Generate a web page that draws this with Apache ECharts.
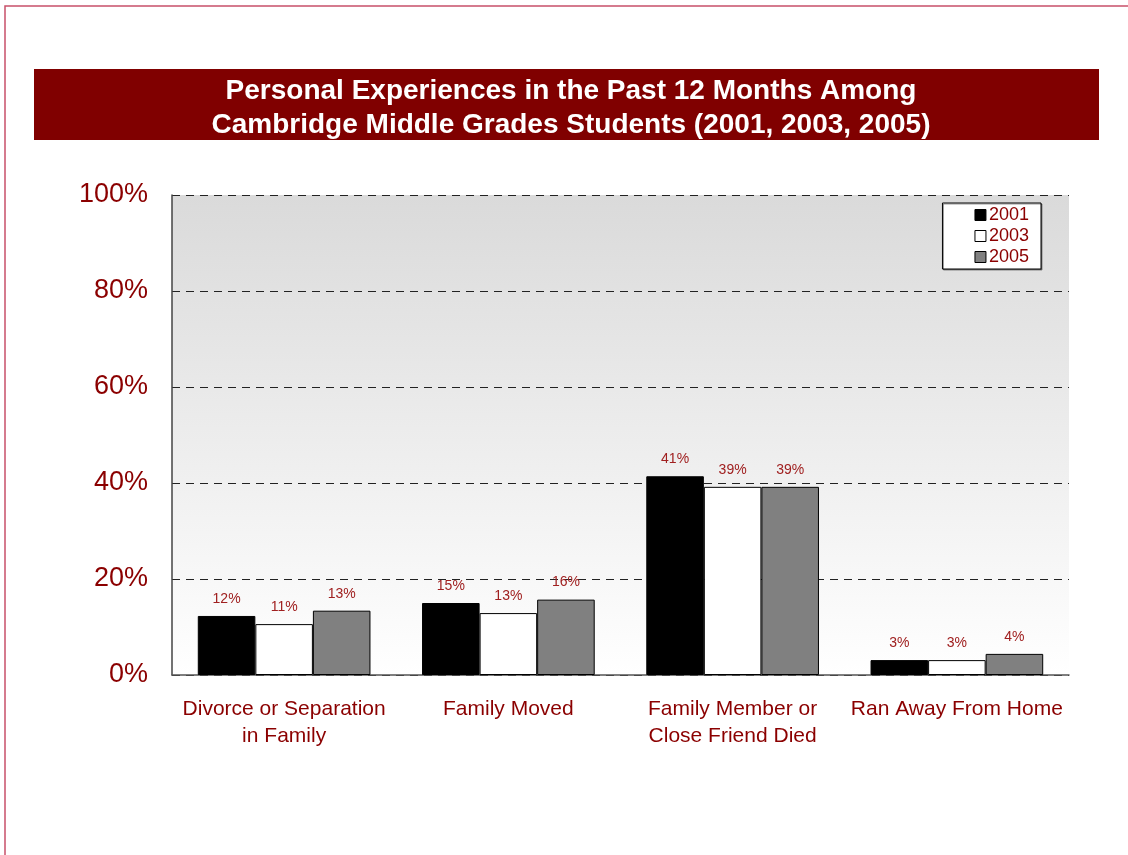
<!DOCTYPE html>
<html>
<head>
<meta charset="utf-8">
<script src="https://cdn.jsdelivr.net/npm/echarts@6/dist/echarts.min.js"></script>
<style>
  html, body { margin: 0; padding: 0; background: #fff; }
  #chart { width: 1128px; height: 855px; }
</style>
</head>
<body>
<div id="chart"></div>
<script>
// 分类与数据
let categories = [
  "Divorce or Separation\nin Family",
  "Family Moved",
  "Family Member or\nClose Friend Died",
  "Ran Away From Home"
];
let years = ["2001", "2003", "2005"];
let values2001 = [12.3, 15.0, 41.4, 3.1];
let values2003 = [10.6, 12.9, 39.2, 3.1];
let values2005 = [13.4, 15.7, 39.2, 4.4];
let barColors = ["#000000", "#ffffff", "#808080"];
let yTicks = [0, 20, 40, 60, 80, 100];

let textRed = "#8b0000";
let font = "Arial";
let myChart = echarts.init(document.getElementById("chart"));

let allValues = [values2001, values2003, values2005];
let series = years.map((year, i) => {
  return {
    name: year,
    type: "bar",
    data: allValues[i],
    barGap: "0%",
    barCategoryGap: "23%",
    itemStyle: {
      color: barColors[i],
      borderColor: "#000",
      borderWidth: 1
    },
    label: {
      show: true,
      position: "top",
      distance: 10,
      color: "#a02020",
      fontFamily: font,
      fontSize: 14,
      formatter: p => Math.round(p.value) + "%"
    }
  };
});

myChart.setOption({
  animation: false,
  title: {
    text: "Personal Experiences in the Past 12 Months Among\nCambridge Middle Grades Students (2001, 2003, 2005)",
    left: 566,
    top: 69,
    textAlign: "center",
    textStyle: {
      color: "#fff",
      fontFamily: font,
      fontWeight: "bold",
      fontSize: 28,
      lineHeight: 34
    }
  },
  graphic: [
    // 外框线
    {
      type: "polyline",
      shape: { points: [[5, 855], [5, 6], [1128, 6]] },
      style: { stroke: "#c8506a", lineWidth: 1.5, fill: null },
      z: 0
    },
    // 标题背景
    {
      type: "rect",
      shape: { x: 34, y: 69, width: 1065, height: 71 },
      style: { fill: "#800000" },
      z: -1
    }
  ],
  legend: {
    data: years,
    orient: "vertical",
    right: 87,
    top: 203,
    width: 102,
    backgroundColor: "#fff",
    borderColor: "#000",
    borderWidth: 1,
    shadowColor: "rgba(0,0,0,0.4)",
    shadowOffsetX: 1,
    shadowOffsetY: 1,
    padding: [3, 12, 3, 32],
    itemWidth: 11,
    itemHeight: 11,
    itemGap: 3,
    icon: "rect",
    itemStyle: { borderColor: "#000", borderWidth: 1 },
    textStyle: {
      color: textRed,
      fontFamily: font,
      fontSize: 18,
      padding: [0, 0, 0, -2]
    }
  },
  grid: {
    left: 172,
    right: 59,
    top: 195,
    bottom: 180,
    show: true,
    borderWidth: 0,
    backgroundColor: {
      type: "linear",
      x: 0, y: 0, x2: 0, y2: 1,
      colorStops: [
        { offset: 0, color: "#dadada" },
        { offset: 1, color: "#ffffff" }
      ]
    }
  },
  xAxis: {
    type: "category",
    data: categories,
    axisLine: { lineStyle: { color: "#555", width: 1.5 } },
    axisTick: { show: false },
    axisLabel: {
      interval: 0,
      color: textRed,
      fontFamily: font,
      fontSize: 21,
      lineHeight: 27,
      margin: 21
    }
  },
  yAxis: {
    type: "value",
    min: 0,
    max: 100,
    interval: 20,
    axisLine: { show: true, lineStyle: { color: "#444", width: 1.5 } },
    axisTick: { show: false },
    axisLabel: {
      color: textRed,
      fontFamily: font,
      fontSize: 27,
      margin: 24,
      padding: [7, 0, 0, 0],
      formatter: v => (yTicks.indexOf(v) >= 0 ? v + "%" : "")
    },
    splitLine: {
      show: true,
      lineStyle: { color: "#222", type: [8, 6], width: 1 }
    }
  },
  series: series
});
</script>
</body>
</html>
